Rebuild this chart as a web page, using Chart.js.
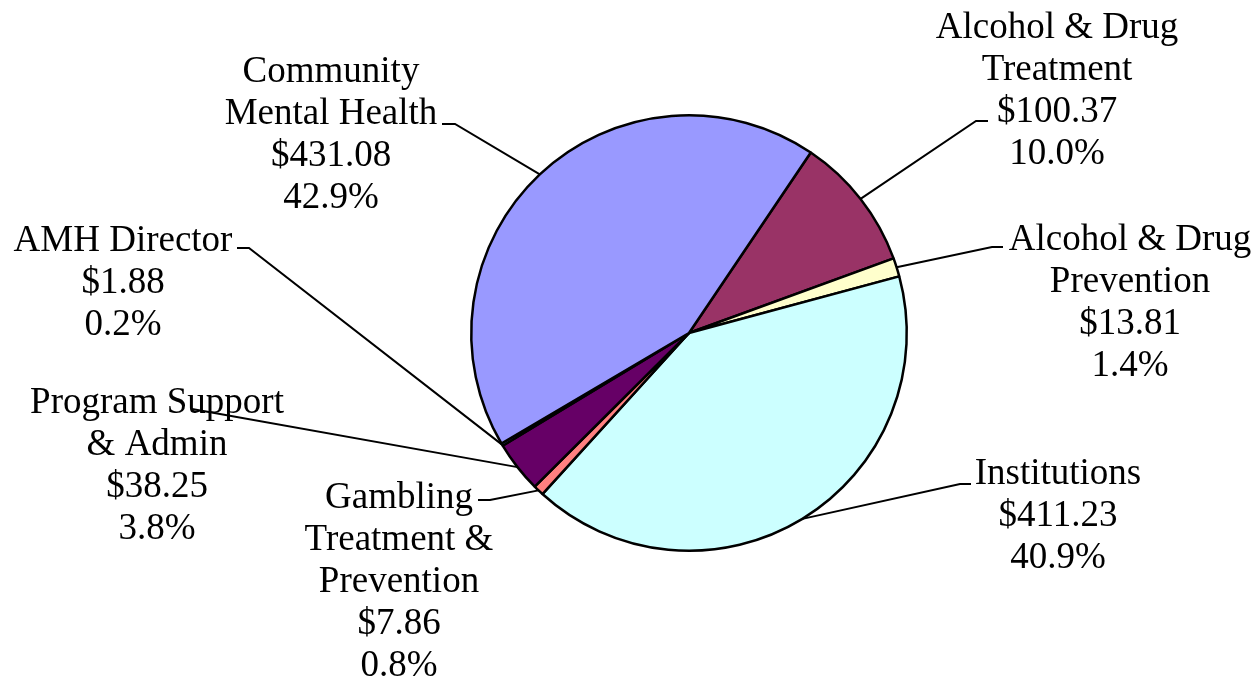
<!DOCTYPE html>
<html>
<head>
<meta charset="utf-8">
<script src="https://cdn.jsdelivr.net/npm/chart.js@4"></script>
<style>
  html, body { margin: 0; padding: 0; background: #fff; }
  #wrap { position: relative; width: 1257px; height: 685px; }
</style>
</head>
<body>
<div id="wrap"><canvas id="c" width="1257" height="685"></canvas></div>
<script>
// ---- data ----
const categories = [
  "Alcohol & Drug Treatment",
  "Alcohol & Drug Prevention",
  "Institutions",
  "Gambling Treatment & Prevention",
  "Program Support & Admin",
  "AMH Director",
  "Community Mental Health"
];
const categoryLines = [
  ["Alcohol & Drug", "Treatment"],
  ["Alcohol & Drug", "Prevention"],
  ["Institutions"],
  ["Gambling", "Treatment &", "Prevention"],
  ["Program Support", "& Admin"],
  ["AMH Director"],
  ["Community", "Mental Health"]
];
const values = [100.37, 13.81, 411.23, 7.86, 38.25, 1.88, 431.08];
const percents = ["10.0%", "1.4%", "40.9%", "0.8%", "3.8%", "0.2%", "42.9%"];
const colors = ["#993366", "#FFFFCC", "#CCFFFF", "#FF8080", "#660066", "#6699FF", "#9999FF"];

// ---- label layout (center x, first line y, leader attach point, stub length) ----
const labelX = [1057, 1130, 1058, 399, 157, 123, 331];
const labelY = [28, 240, 474, 498, 403, 241, 72];
const attachX = [988, 1003, 971, 478, 192, 237, 442];
const attachY = [121, 247, 484, 500, 409, 248, 124];
const stubDX = [-12, -11, -11, 12, 0, 12, 13];
const lineHeight = 42;
const fontSpec = '37px "Liberation Serif", "Times New Roman", serif';

const labelPlugin = {
  id: 'outLabels',
  afterDatasetsDraw(chart) {
    const ctx = chart.ctx;
    const meta = chart.getDatasetMeta(0);
    ctx.save();
    // leader lines
    ctx.strokeStyle = '#000';
    ctx.lineWidth = 2;
    meta.data.forEach((arc, i) => {
      const p = arc.getProps(['x', 'y', 'startAngle', 'endAngle', 'outerRadius'], true);
      const mid = (p.startAngle + p.endAngle) / 2;
      const ex = p.x + Math.cos(mid) * p.outerRadius;
      const ey = p.y + Math.sin(mid) * p.outerRadius;
      ctx.beginPath();
      ctx.moveTo(ex, ey);
      ctx.lineTo(attachX[i] + stubDX[i], attachY[i]);
      ctx.lineTo(attachX[i], attachY[i]);
      ctx.stroke();
    });
    // texts
    ctx.fillStyle = '#000';
    ctx.font = fontSpec;
    ctx.textAlign = 'center';
    ctx.textBaseline = 'middle';
    values.forEach((v, i) => {
      const lines = categoryLines[i].concat(['$' + v.toFixed(2), percents[i]]);
      lines.forEach((t, k) => {
        ctx.fillText(t, labelX[i], labelY[i] + k * lineHeight);
      });
    });
    ctx.restore();
  }
};

new Chart(document.getElementById('c'), {
  type: 'pie',
  data: {
    labels: categories,
    datasets: [{
      data: values,
      backgroundColor: colors,
      borderColor: '#000',
      borderWidth: 2.5,
      borderAlign: 'center',
      hoverOffset: 0,
      hoverBorderWidth: 2.5,
      offset: 0
    }]
  },
  options: {
    responsive: false,
    animation: false,
    rotation: 34,
    layout: { padding: { left: 470, right: 349, top: 114, bottom: 133 } },
    plugins: {
      legend: { display: false },
      tooltip: { enabled: false }
    },
    events: []
  },
  plugins: [labelPlugin]
});
</script>
</body>
</html>
